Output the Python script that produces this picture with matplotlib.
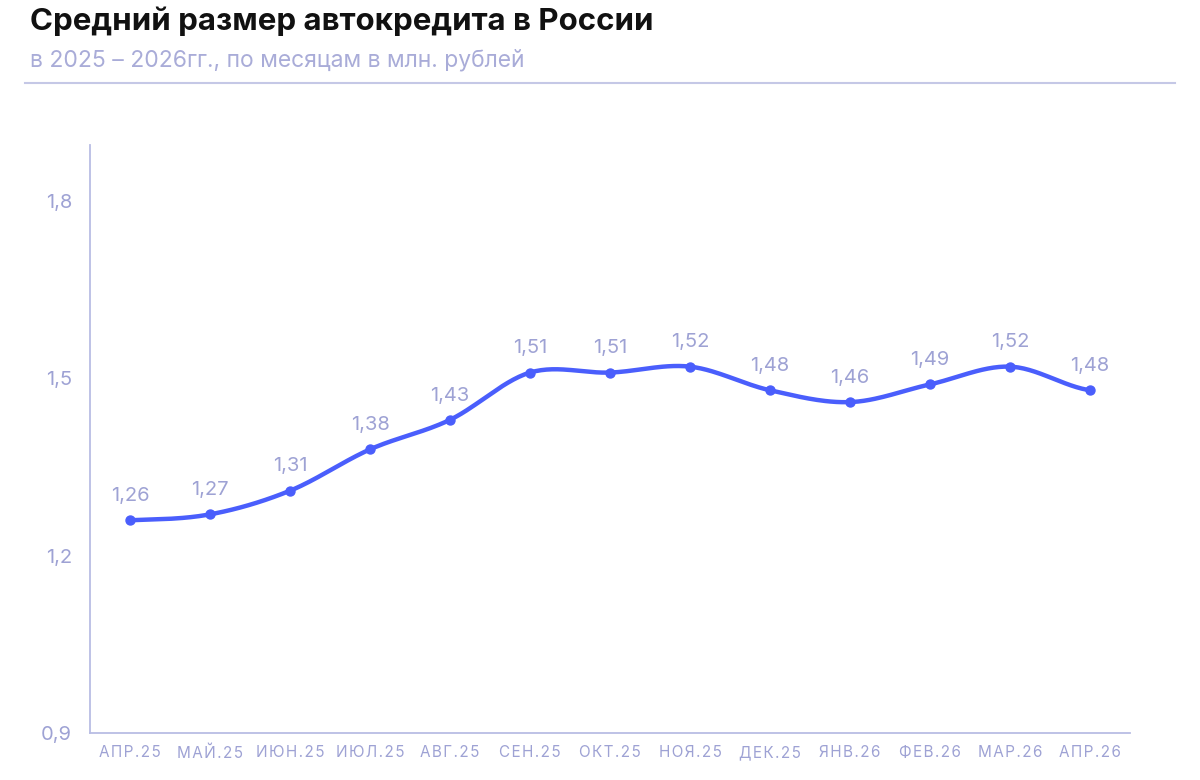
import numpy as np
import matplotlib
matplotlib.use("Agg")
import matplotlib.pyplot as plt

plt.rcParams['font.family'] = ['Inter', 'DejaVu Sans']

months = ["АПР.25", "МАЙ.25", "ИЮН.25", "ИЮЛ.25", "АВГ.25", "СЕН.25", "ОКТ.25",
          "НОЯ.25", "ДЕК.25", "ЯНВ.26", "ФЕВ.26", "МАР.26", "АПР.26"]
values = [1.26, 1.27, 1.31, 1.38, 1.43, 1.51, 1.51, 1.52, 1.48, 1.46, 1.49, 1.52, 1.48]
yticks = [0.9, 1.2, 1.5, 1.8]

LINE = "#4a5efc"
LABEL = "#9ea2d4"
AXIS = "#b9bde4"


def catmull_rom(x, y, n=30):
    """Гладкая кривая через точки (Catmull-Rom), как в исходном графике."""
    x = np.asarray(x, float); y = np.asarray(y, float)
    px = np.concatenate([[2 * x[0] - x[1]], x, [2 * x[-1] - x[-2]]])
    py = np.concatenate([[y[0]], y, [y[-1]]])
    xs, ys = [], []
    t = np.linspace(0, 1, n)
    for i in range(1, len(px) - 2):
        for p, out in ((px, xs), (py, ys)):
            p0, p1, p2, p3 = p[i - 1], p[i], p[i + 1], p[i + 2]
            out.append(0.5 * (2 * p1 + (-p0 + p2) * t + (2 * p0 - 5 * p1 + 4 * p2 - p3) * t ** 2
                              + (-p0 + 3 * p1 - 3 * p2 + p3) * t ** 3))
    return np.concatenate(xs), np.concatenate(ys)


def spaced(s):
    # разрядка букв в подписях оси X
    return "\u200a".join(s)


fig = plt.figure(figsize=(12, 7.8), dpi=100)
ax = fig.add_axes([0.075, 0.0603, 0.8667, 0.7537])

x = np.arange(len(values))
sx, sy = catmull_rom(x, values)
ax.plot(sx, sy, color=LINE, lw=3.2, solid_capstyle='round', zorder=3)
ax.scatter(x, values, s=42, color=LINE, zorder=4)
for xi, v in zip(x, values):
    ax.annotate(f"{v:.2f}".replace(".", ","), (xi, v), xytext=(0, 11), textcoords='offset points',
                ha='center', va='bottom', fontsize=14.5, color=LABEL)

ax.set_xlim(-0.5, len(values) - 0.5)
ax.set_ylim(0.9, 1.895)
ax.set_xticks(x)
ax.set_xticklabels([spaced(m) for m in months], fontsize=11, color=LABEL)
ax.set_yticks(yticks)
ax.set_yticklabels([f"{t:.1f}".replace(".", ",") for t in yticks], fontsize=14.5, color=LABEL)
ax.tick_params(axis='both', length=0)
ax.tick_params(axis='y', pad=13)
ax.tick_params(axis='x', pad=9)
for s in ('top', 'right'):
    ax.spines[s].set_visible(False)
for s in ('left', 'bottom'):
    ax.spines[s].set_color(AXIS)
    ax.spines[s].set_linewidth(1.3)

fig.text(0.025, 0.992, "Средний размер автокредита в России", fontsize=22.5, fontweight='bold',
         color='#111111', va='top', ha='left')
fig.text(0.025, 0.937, "в 2025 – 2026гг., по месяцам в млн. рублей", fontsize=16.5,
         color='#a9acd8', va='top', ha='left')
fig.add_artist(plt.Line2D([0.021, 0.979], [0.894, 0.894], color='#c5c8e6', lw=1.5))

fig.savefig("out.png", dpi=100, facecolor='white')
